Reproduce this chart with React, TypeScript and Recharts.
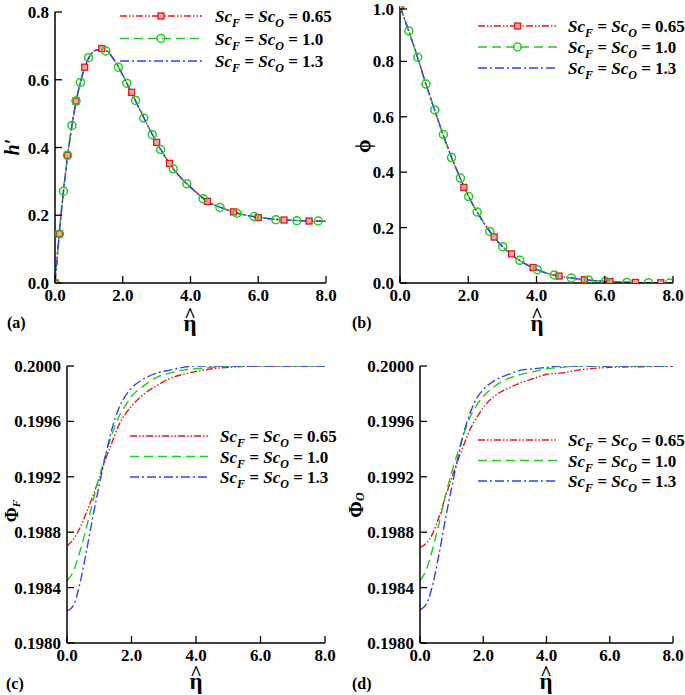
import { ComposedChart, Line, Scatter, XAxis, YAxis } from 'recharts'

const SERIF = "'Liberation Serif', 'Times New Roman', serif"
const RED = '#e3161d'
const GREEN = '#1fcc1f'
const BLUE = '#3141f2'

const etaTicks = [0, 2, 4, 6, 8]
const scLabels = ['0.65', '1.0', '1.3']

// (a) h'  -- the three Sc curves coincide
const hX = [0, 0.125, 0.25, 0.375, 0.5, 0.625, 0.75, 0.875, 1.0, 1.25, 1.5, 1.75, 2.0, 2.25, 2.5, 2.75, 3.0, 3.25, 3.5, 3.75, 4.0, 4.5, 5.0, 5.5, 6.0, 6.5, 7.0, 7.5, 8.0]
const hPrime = [0, 0.145, 0.271, 0.377, 0.465, 0.537, 0.592, 0.636, 0.665, 0.688, 0.686, 0.658, 0.614, 0.563, 0.513, 0.462, 0.415, 0.373, 0.336, 0.307, 0.283, 0.241, 0.219, 0.203, 0.194, 0.188, 0.185, 0.183, 0.182]
const hRedX = [0, 0.13, 0.37, 0.62, 0.875, 1.38, 2.26, 3.0, 3.38, 4.5, 5.27, 6.0, 6.76, 7.5]
const hRedY = [0, 0.145, 0.377, 0.537, 0.637, 0.692, 0.563, 0.415, 0.353, 0.241, 0.21, 0.193, 0.186, 0.183]
const hGreenX = [0, 0.13, 0.25, 0.37, 0.5, 0.62, 0.75, 0.99, 1.5, 1.87, 2.12, 2.38, 2.62, 2.87, 3.12, 3.49, 3.89, 4.37, 4.87, 5.37, 5.88, 6.52, 7.14, 7.77]
const hGreenY = [0, 0.145, 0.271, 0.377, 0.465, 0.537, 0.592, 0.665, 0.685, 0.637, 0.59, 0.539, 0.487, 0.438, 0.394, 0.337, 0.293, 0.249, 0.223, 0.206, 0.196, 0.187, 0.184, 0.183]

// (b) phi
const phiX = [0, 0.25, 0.5, 0.75, 1.0, 1.25, 1.5, 1.75, 2.0, 2.25, 2.5, 2.75, 3.0, 3.25, 3.5, 3.75, 4.0, 4.5, 5.0, 5.5, 6.0, 6.5, 7.0, 7.5, 8.0]
const phi = [1.0, 0.912, 0.82, 0.722, 0.63, 0.54, 0.457, 0.383, 0.315, 0.258, 0.209, 0.167, 0.132, 0.104, 0.082, 0.064, 0.049, 0.029, 0.018, 0.011, 0.006, 0.003, 0.0015, 0.0005, 0]
const phiRedX = [0, 1.87, 2.76, 3.27, 3.9, 4.66, 5.4, 6.15, 6.9, 7.64]
const phiRedY = [1.0, 0.345, 0.166, 0.105, 0.056, 0.025, 0.012, 0.005, 0.002, 0.001]
const phiGreenX = [0, 0.26, 0.52, 0.76, 1.02, 1.27, 1.51, 1.77, 2.01, 2.26, 2.63, 3.01, 3.51, 4.02, 4.52, 5.02, 5.52, 6.02, 6.65, 7.28, 7.9]
const phiGreenY = [1.0, 0.91, 0.815, 0.718, 0.625, 0.536, 0.453, 0.379, 0.312, 0.256, 0.186, 0.131, 0.082, 0.048, 0.029, 0.018, 0.011, 0.006, 0.002, 0.001, 0]

// (c) Phi_F and (d) Phi_O
const PhiX = [0, 0.2, 0.4, 0.6, 0.8, 1.0, 1.2, 1.4, 1.6, 1.8, 2.0, 2.4, 2.8, 3.2, 3.6, 4.0, 4.5, 5.0, 6.0, 7.0, 8.0]
const PhiF065 = [0.1987, 0.19875, 0.19883, 0.19894, 0.19906, 0.19919, 0.19933, 0.19945, 0.19957, 0.19965, 0.19971, 0.1998, 0.19986, 0.19991, 0.19994, 0.19996, 0.19998, 0.19999, 0.2, 0.2, 0.2]
const PhiF10 = [0.19845, 0.19852, 0.19866, 0.19883, 0.19902, 0.1992, 0.19936, 0.19951, 0.19963, 0.19971, 0.19978, 0.19986, 0.19992, 0.19995, 0.19997, 0.19998, 0.19999, 0.2, 0.2, 0.2, 0.2]
const PhiF13 = [0.19823, 0.19827, 0.19843, 0.19866, 0.19891, 0.19914, 0.19936, 0.19955, 0.19969, 0.19978, 0.19984, 0.19991, 0.19995, 0.19997, 0.19999, 0.2, 0.2, 0.2, 0.2, 0.2, 0.2]
const PhiO065 = [0.19869, 0.19872, 0.19879, 0.19891, 0.19905, 0.19919, 0.19932, 0.19944, 0.19955, 0.19963, 0.1997, 0.19979, 0.19984, 0.19988, 0.19991, 0.19994, 0.19995, 0.19997, 0.19999, 0.199995, 0.2]
const PhiO10 = [0.19845, 0.19853, 0.19868, 0.19886, 0.19906, 0.19923, 0.19938, 0.19952, 0.19964, 0.19972, 0.19978, 0.19986, 0.19991, 0.19994, 0.19996, 0.19998, 0.19999, 0.2, 0.2, 0.2, 0.2]
const PhiO13 = [0.19824, 0.19828, 0.19842, 0.19864, 0.19889, 0.19912, 0.19934, 0.19953, 0.19967, 0.19977, 0.19983, 0.1999, 0.19994, 0.19997, 0.19998, 0.19999, 0.2, 0.2, 0.2, 0.2, 0.2]
const PhiTicks = [0.198, 0.1984, 0.1988, 0.1992, 0.1996, 0.2]

const rows = (xs: number[], ys: number[]) => xs.map((x, i) => ({ x, y: ys[i] }))

const DASH = ['7 2 1.5 2 1.5 2', '9 5', '9 3 2 3']
const COLORS = [RED, GREEN, BLUE]

const YW = 50
const XH = 20
const TM = 6

const yTick = (dec: number) => (p: any) => (
  <g>
    <line x1={p.x + TM} x2={p.x + TM + 7} y1={p.y} y2={p.y} stroke="#000" strokeWidth={1.3} />
    <text x={p.x} y={p.y} dy={6} textAnchor="end" fontSize={17} fontWeight="bold" fontFamily={SERIF} fill="#000">
      {Number(p.payload.value).toFixed(dec)}
    </text>
  </g>
)

const xTick = (p: any) => (
  <g>
    <line x1={p.x} x2={p.x} y1={p.y - TM} y2={p.y - TM - 7} stroke="#000" strokeWidth={1.3} />
    <text x={p.x} y={p.y} dy={12} textAnchor="middle" fontSize={17} fontWeight="bold" fontFamily={SERIF} fill="#000">
      {Number(p.payload.value).toFixed(1)}
    </text>
  </g>
)

const squareShape = (p: any) => (
  <rect x={p.cx - 3} y={p.cy - 3} width={6} height={6} fill="#f4a3a3" stroke={RED} strokeWidth={1.3} />
)
const circleShape = (p: any) => <circle cx={p.cx} cy={p.cy} r={4} fill="none" stroke={GREEN} strokeWidth={1.5} />

type PanelProps = {
  box: { left: number; top: number; width: number; height: number }
  plot: { x0: number; y0: number; x1: number; y1: number }
  yDomain: [number, number]
  yTicks: number[]
  yDec: number
  curves: { x: number; y: number }[][]
  reds?: { x: number; y: number }[]
  greens?: { x: number; y: number }[]
}

function Panel({ box, plot, yDomain, yTicks, yDec, curves, reds, greens }: PanelProps) {
  const margin = {
    left: plot.x0 - box.left - YW,
    top: plot.y0 - box.top,
    right: box.left + box.width - plot.x1,
    bottom: box.top + box.height - plot.y1 - XH,
  }
  return (
    <div style={{ position: 'absolute', left: box.left, top: box.top }}>
      <ComposedChart width={box.width} height={box.height} margin={margin}>
        <XAxis
          dataKey="x"
          type="number"
          domain={[0, 8]}
          ticks={etaTicks}
          height={XH}
          tickSize={0}
          tickMargin={TM}
          tick={xTick}
          axisLine={{ stroke: '#000', strokeWidth: 1.5 }}
          allowDataOverflow
        />
        <YAxis
          dataKey="y"
          type="number"
          domain={yDomain}
          ticks={yTicks}
          width={YW}
          tickSize={0}
          tickMargin={TM}
          tick={yTick(yDec)}
          axisLine={{ stroke: '#000', strokeWidth: 1.5 }}
          allowDataOverflow
        />
        {curves.map((d, i) => (
          <Line
            key={i}
            data={d}
            dataKey="y"
            type="monotone"
            stroke={COLORS[i]}
            strokeWidth={1.4}
            strokeDasharray={DASH[i]}
            dot={false}
            activeDot={false}
            isAnimationActive={false}
          />
        ))}
        {reds && <Scatter data={reds} dataKey="y" shape={squareShape} isAnimationActive={false} />}
        {greens && <Scatter data={greens} dataKey="y" shape={circleShape} isAnimationActive={false} />}
      </ComposedChart>
    </div>
  )
}

function LegendRows({ x0, x1, tx, ys, markers }: { x0: number; x1: number; tx: number; ys: number[]; markers: boolean }) {
  const mid = (x0 + x1) / 2
  return (
    <g>
      {ys.map((y, i) => (
        <g key={i}>
          <line x1={x0} x2={x1} y1={y} y2={y} stroke={COLORS[i]} strokeWidth={1.4} strokeDasharray={DASH[i]} />
          {markers && i === 0 && squareShape({ cx: mid, cy: y })}
          {markers && i === 1 && circleShape({ cx: mid, cy: y })}
          <text x={tx} y={y + 6} fontSize={17} fontWeight="bold" fontStyle="italic" fontFamily={SERIF} fill="#000">
            Sc<tspan fontSize={12} dy={5}>F</tspan>
            <tspan dy={-5}> = Sc</tspan>
            <tspan fontSize={12} dy={5}>O</tspan>
            <tspan dy={-5} fontStyle="normal"> = {scLabels[i]}</tspan>
          </text>
        </g>
      ))}
    </g>
  )
}

// eta with a hat: one text chunk, the caret pulled back over the eta
function EtaHat({ cx, base }: { cx: number; base: number }) {
  return (
    <text x={cx - 6.4} y={base} fontFamily={SERIF} fontWeight="bold" fontSize={23} fill="#000">
      η
      <tspan dx={-12.4} dy={-9} fontSize={20}>^</tspan>
    </text>
  )
}

export default function App() {
  return (
    <div style={{ position: 'absolute', left: 0, top: 0, width: 685, height: 695, background: '#fff', fontFamily: SERIF }}>
      <Panel
        box={{ left: 0, top: 0, width: 345, height: 310 }}
        plot={{ x0: 55, y0: 12, x1: 326, y1: 283 }}
        yDomain={[0, 0.8]}
        yTicks={[0, 0.2, 0.4, 0.6, 0.8]}
        yDec={1}
        curves={[rows(hX, hPrime), rows(hX, hPrime), rows(hX, hPrime)]}
        reds={rows(hRedX, hRedY)}
        greens={rows(hGreenX, hGreenY)}
      />
      <Panel
        box={{ left: 345, top: 0, width: 340, height: 310 }}
        plot={{ x0: 400, y0: 6, x1: 673, y1: 283 }}
        yDomain={[0, 1]}
        yTicks={[0, 0.2, 0.4, 0.6, 0.8, 1.0]}
        yDec={1}
        curves={[rows(phiX, phi), rows(phiX, phi), rows(phiX, phi)]}
        reds={rows(phiRedX, phiRedY)}
        greens={rows(phiGreenX, phiGreenY)}
      />
      <Panel
        box={{ left: 0, top: 335, width: 345, height: 335 }}
        plot={{ x0: 67, y0: 366, x1: 325, y1: 643 }}
        yDomain={[0.198, 0.2]}
        yTicks={PhiTicks}
        yDec={4}
        curves={[rows(PhiX, PhiF065), rows(PhiX, PhiF10), rows(PhiX, PhiF13)]}
      />
      <Panel
        box={{ left: 345, top: 335, width: 340, height: 335 }}
        plot={{ x0: 420, y0: 366, x1: 673, y1: 643 }}
        yDomain={[0.198, 0.2]}
        yTicks={PhiTicks}
        yDec={4}
        curves={[rows(PhiX, PhiO065), rows(PhiX, PhiO10), rows(PhiX, PhiO13)]}
      />
      <svg width={685} height={695} style={{ position: 'absolute', left: 0, top: 0, pointerEvents: 'none' }}>
        <LegendRows x0={120} x1={202} tx={215} ys={[16, 38.5, 61]} markers />
        <LegendRows x0={478} x1={557} tx={568} ys={[26, 47, 68]} markers />
        <LegendRows x0={130} x1={208} tx={220} ys={[436, 456.5, 477]} markers={false} />
        <LegendRows x0={478} x1={557} tx={568} ys={[440, 460.5, 481]} markers={false} />

        <EtaHat cx={190} base={331} />
        <EtaHat cx={537} base={331} />
        <EtaHat cx={196} base={689} />
        <EtaHat cx={546} base={689} />

        <g fontFamily={SERIF} fontWeight="bold" fontSize={16} fill="#000">
          <text x={7} y={328}>(a)</text>
          <text x={352} y={328}>(b)</text>
          <text x={6} y={689}>(c)</text>
          <text x={352} y={689}>(d)</text>
        </g>

        <g fontFamily={SERIF} fontWeight="bold" fill="#000" textAnchor="middle" dominantBaseline="central">
          <text x={12} y={147} fontSize={20} fontStyle="italic" transform="rotate(-90, 12, 147)">h′</text>
          <text x={362} y={146} fontSize={22} transform="rotate(-90, 362, 146)">ϕ</text>
          <text x={12} y={511} fontSize={18} transform="rotate(-90, 12, 511)">
            Φ<tspan fontSize={11} fontStyle="italic" dy={4}>F</tspan>
          </text>
          <text x={356} y={505} fontSize={20} transform="rotate(-90, 356, 505)">
            Φ<tspan fontSize={12} fontStyle="italic" dy={4}>O</tspan>
          </text>
        </g>
      </svg>
    </div>
  )
}
